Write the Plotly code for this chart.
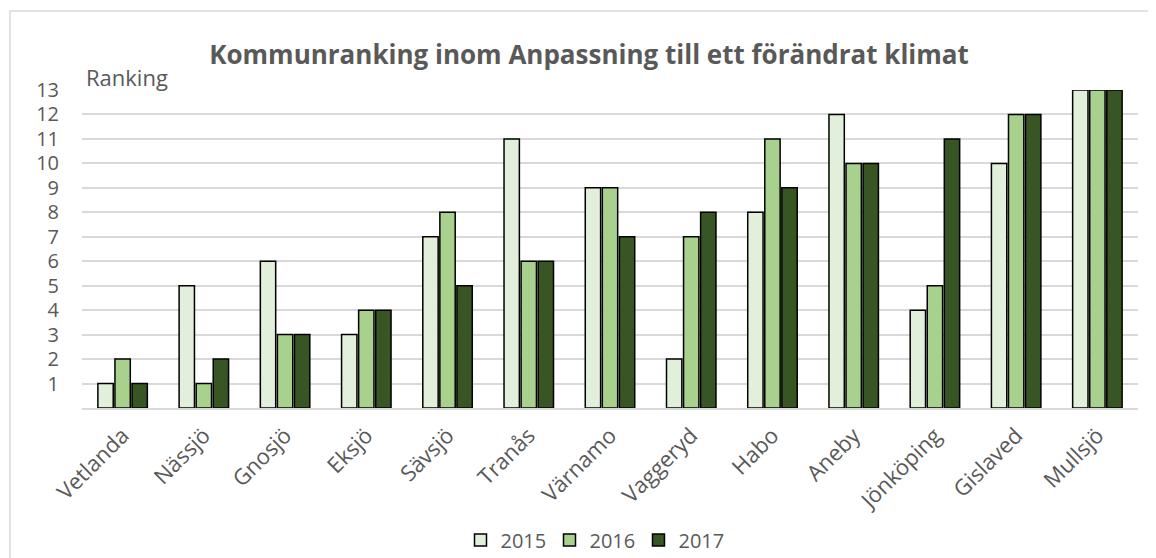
import plotly.graph_objects as go

categories = ["Vetlanda", "Nässjö", "Gnosjö", "Eksjö", "Sävsjö", "Tranås", "Värnamo",
              "Vaggeryd", "Habo", "Aneby", "Jönköping", "Gislaved", "Mullsjö"]
years = ["2015", "2016", "2017"]
values_2015 = [1, 5, 6, 3, 7, 11, 9, 2, 8, 12, 4, 10, 13]
values_2016 = [2, 1, 3, 4, 8, 6, 9, 7, 11, 10, 5, 12, 13]
values_2017 = [1, 2, 3, 4, 5, 6, 7, 8, 9, 10, 11, 12, 13]
colors = ["#E2EFDA", "#A9D18E", "#375623"]
tick_vals = list(range(1, 14))

FONT = "'Open Sans', sans-serif"
GRAY = "#595959"

fig = go.Figure()
for name, vals, col in zip(years, [values_2015, values_2016, values_2017], colors):
    fig.add_trace(go.Bar(x=categories, y=vals, name=name,
                         marker=dict(color=col, line=dict(color="#000000", width=1.5))))

# page body has an 8px margin; figure is sized so it ends at the viewport edge
OFF = 8
W, H = 1156 - OFF, 558 - OFF
ml, mt = 82 - OFF, 90 - OFF
pw, ph = 1056, 318
mr = W - ml - pw
mb = H - mt - ph

def px_x(px):
    return (px - OFF - ml) / pw

def px_y(py):
    return (H - mb - (py - OFF)) / ph

fig.update_layout(
    width=W, height=H,
    margin=dict(l=ml, r=mr, t=mt, b=mb, autoexpand=False),
    paper_bgcolor="white", plot_bgcolor="white",
    barmode="group", bargap=0.37, bargroupgap=0.1,
    font=dict(family=FONT, color=GRAY, size=20),
    title=dict(text="<b>Kommunranking inom Anpassning till ett förändrat klimat</b>",
               x=(589 - OFF) / W, xref="container", xanchor="center",
               y=1 - (55 - OFF) / H, yref="container", yanchor="middle",
               font=dict(size=26, color=GRAY, family=FONT)),
    legend=dict(orientation="h", x=(594 - OFF) / W, xref="container", xanchor="center",
                y=1 - (540 - OFF) / H, yref="container", yanchor="middle",
                font=dict(size=20, color=GRAY), traceorder="normal",
                entrywidth=44, entrywidthmode="pixels", itemwidth=30),
    showlegend=True,
)
fig.update_xaxes(tickangle=-45, tickfont=dict(size=22, color=GRAY), automargin=False,
                 showgrid=False, showline=True, linecolor="#D9D9D9", linewidth=2,
                 ticks="", ticklabelstandoff=4)
fig.update_yaxes(range=[0, 13], tickvals=tick_vals, ticktext=[str(v) for v in tick_vals],
                 showgrid=True, gridcolor="#D9D9D9", gridwidth=1.5, automargin=False,
                 tickfont=dict(size=20, color=GRAY), zeroline=False, ticks="",
                 ticklabelstandoff=22)

fig.add_annotation(text="Ranking", xref="paper", yref="paper",
                   x=px_x(84), y=px_y(77), xanchor="left", yanchor="middle",
                   showarrow=False, font=dict(size=22, color=GRAY))

fig.add_shape(type="rect", xref="paper", yref="paper",
              x0=px_x(10), x1=px_x(1180),
              y0=px_y(600), y1=px_y(11),
              line=dict(color="#D9D9D9", width=1.5), fillcolor="rgba(0,0,0,0)", layer="below")

fig.write_html("out.html")
